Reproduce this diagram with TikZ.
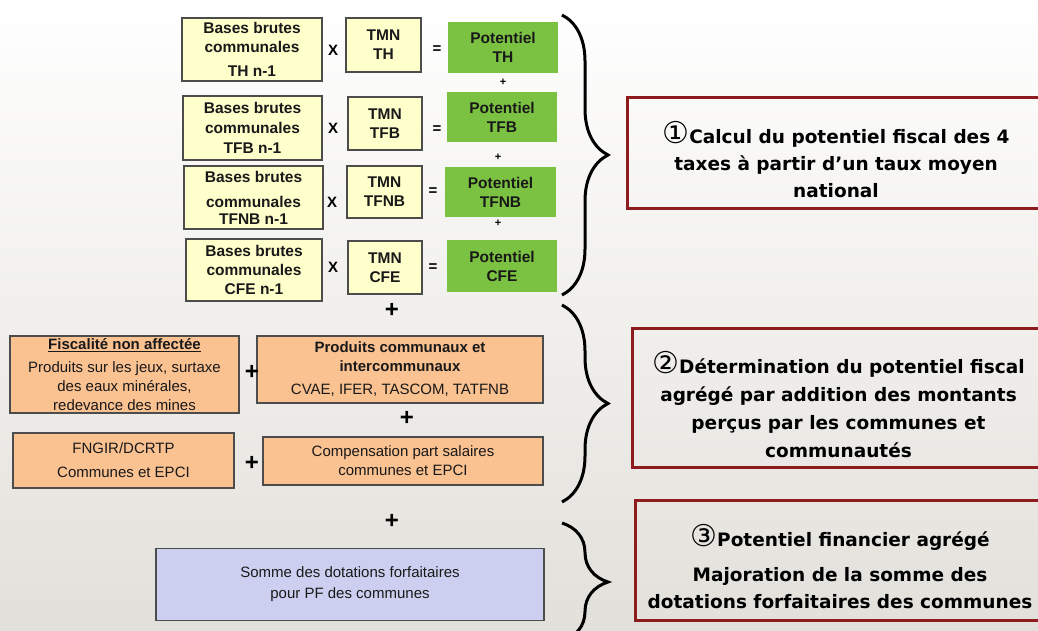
\documentclass[tikz,border=0pt]{standalone}
\usepackage{fontspec}
\setmainfont{Liberation Sans}
\newfontfamily\dejavu{DejaVu Sans}
\usetikzlibrary{decorations.pathreplacing}

\definecolor{cJaune}{HTML}{FFFFCC}
\definecolor{cVert}{HTML}{7CC242}
\definecolor{cPeche}{HTML}{FAC191}
\definecolor{cLavande}{HTML}{CDCFF0}
\definecolor{cBordeaux}{HTML}{8E1B1E}
\definecolor{cFond}{HTML}{E2E0DA}

% numero d'etape entoure
\newcommand{\numetape}[1]{\rule{0pt}{36pt}{\dejavu\fontsize{30}{27}\selectfont\mdseries #1}}

\begin{document}
\begin{tikzpicture}[x=1pt, y=-1pt,
        boite/.style={draw=black!70, line width=1.2pt, inner sep=0pt, align=center, text=black!90},
        jaune/.style={boite, fill=cJaune, font=\fontsize{15.5}{19}\selectfont\bfseries},
        vert/.style={boite, draw=none, fill=cVert, font=\fontsize{15.5}{19}\selectfont\bfseries},
        peche/.style={boite, fill=cPeche, font=\fontsize{15}{19}\selectfont},
        lavande/.style={boite, fill=cLavande, font=\fontsize{15}{21}\selectfont},
        etape/.style={draw=cBordeaux, line width=3pt, inner sep=0pt, align=center, font=\dejavu\fontsize{18.5}{27}\selectfont\bfseries},
        signe/.style={inner sep=0pt, font=\fontsize{15}{15}\selectfont\bfseries},
        plus/.style={inner sep=0pt, font=\fontsize{24}{24}\selectfont\bfseries},
        petitplus/.style={inner sep=0pt, font=\fontsize{11}{11}\selectfont\bfseries},
        accolade/.style={decorate, decoration={brace, amplitude=46pt}, line width=3pt}]

        % Fond
        \useasboundingbox (0,0) rectangle (1038,630);
        \shade[top color=white, bottom color=cFond] (0,0) rectangle (1038,630);

        % Nodes : bases x TMN = potentiel
        \node[jaune, minimum width=140pt, minimum height=63pt] at (252, 49.5)  (b1) {Bases brutes\\communales\\[5pt]TH n-1};
        \node[jaune, minimum width=139pt, minimum height=64pt] at (252.5, 128) (b2) {Bases brutes\\[1pt]communales\\[1pt]TFB n-1};
        \node[jaune, minimum width=139pt, minimum height=63pt] at (253.5, 197.5) (b3) {Bases brutes\\[6pt]communales\\[-2pt]TFNB n-1};
        \node[jaune, minimum width=136pt, minimum height=62pt] at (254, 270)  (b4) {Bases brutes\\communales\\CFE n-1};

        \node[jaune, minimum width=75pt, minimum height=54pt] at (383.5, 45)  (t1) {TMN\\TH};
        \node[jaune, minimum width=74pt, minimum height=53pt] at (385, 123.5) (t2) {TMN\\TFB};
        \node[jaune, minimum width=75pt, minimum height=52pt] at (384.5, 192) (t3) {TMN\\TFNB};
        \node[jaune, minimum width=74pt, minimum height=53pt] at (385, 267.5) (t4) {TMN\\CFE};

        \node[vert, minimum width=110pt, minimum height=51pt] at (503, 47.5)  (p1) {Potentiel\\TH};
        \node[vert, minimum width=110pt, minimum height=50pt] at (502, 117)   (p2) {Potentiel\\TFB};
        \node[vert, minimum width=111pt, minimum height=50pt] at (500.5, 192) (p3) {Potentiel\\TFNB};
        \node[vert, minimum width=110pt, minimum height=52pt] at (502, 266)   (p4) {Potentiel\\CFE};

        \node[signe] at (333, 50)  (x1) {X};
        \node[signe] at (333, 128) (x2) {X};
        \node[signe] at (332, 202) (x3) {X};
        \node[signe] at (333, 267) (x4) {X};

        \node[signe] at (437, 50)  (e1) {=};
        \node[signe] at (437, 130) (e2) {=};
        \node[signe] at (433, 192) (e3) {=};
        \node[signe] at (433, 268) (e4) {=};

        \node[petitplus] at (503, 82)  (s1) {+};
        \node[petitplus] at (498, 157) (s2) {+};
        \node[petitplus] at (498, 223) (s3) {+};

        % Nodes : produits
        \node[peche, minimum width=229pt, minimum height=77pt] at (124.5, 374.5) (fisc) {\textbf{\underline{Fiscalité non affectée}}\\[4pt]Produits sur les jeux, surtaxe\\des eaux minérales,\\redevance des mines};
        \node[peche, minimum width=286pt, minimum height=67pt] at (400, 369.5) (prod) {\textbf{Produits communaux et}\\\textbf{intercommunaux}\\[4pt]CVAE, IFER, TASCOM, TATFNB};
        \node[peche, minimum width=221pt, minimum height=55pt] at (123.5, 460.5) (fngir) {FNGIR/DCRTP\\[5pt]Communes et EPCI};
        \node[peche, minimum width=280pt, minimum height=48pt] at (403, 461) (comp) {Compensation part salaires\\communes et EPCI};
        \node[lavande, minimum width=388pt, minimum height=72pt] at (350, 584.5) (somme) {Somme des dotations forfaitaires\\pour PF des communes};

        \node[plus] at (392, 310) (a1) {+};
        \node[plus] at (252, 372) (a2) {+};
        \node[plus] at (407, 418) (a3) {+};
        \node[plus] at (252, 463) (a4) {+};
        \node[plus] at (392, 521) (a5) {+};

        % Accolades
        \draw[accolade] (562, 15) -- (562, 295);
        \draw[accolade] (562, 305) -- (562, 502);
        \draw[accolade] (562, 523) -- (562, 641);

        % Etapes
        \node[etape, minimum width=418pt, minimum height=111pt] at (836, 152.5) (r1) {\numetape{①}Calcul du potentiel fiscal des 4\\taxes à partir d’un taux moyen\\national};
        \node[etape, minimum width=413pt, minimum height=139pt] at (838.5, 397.5) (r2) {\numetape{②}Détermination du potentiel fiscal\\[1pt]agrégé par addition des montants\\[1pt]perçus par les communes et\\[1pt]communautés};
        \node[etape, minimum width=410pt, minimum height=120pt] at (840, 560) (r3) {\numetape{③}Potentiel financier agrégé\\[8pt]Majoration de la somme des\\dotations forfaitaires des communes};

    \end{tikzpicture}
\end{document}
